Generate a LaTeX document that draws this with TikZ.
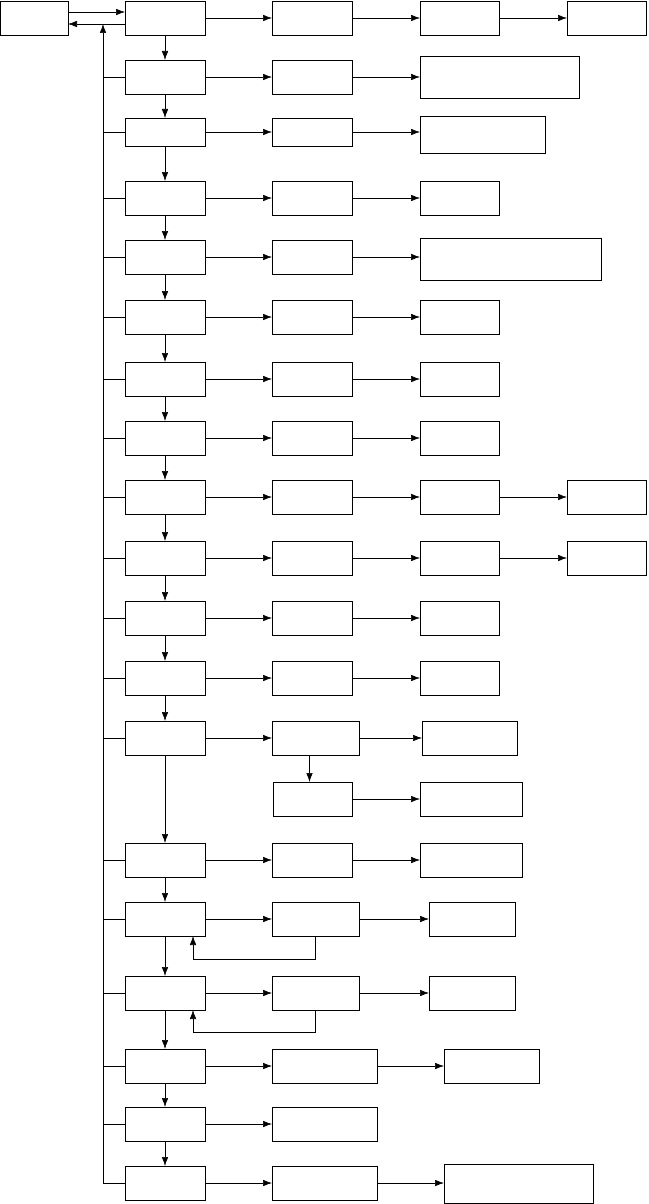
\documentclass[tikz,border=0pt]{standalone}
\usetikzlibrary{arrows.meta}

% box from top left (x1,y1) to bottom right (x2,y2)
\newcommand{\bx}[5]{\node[blk,minimum width={((#4)-(#2))*1pt},minimum height={((#5)-(#3))*1pt}] (#1) at (#2,#3) {};}

\begin{document}
\begin{tikzpicture}[x=1pt,y=-1pt,
    blk/.style={draw,line width=0.9pt,inner sep=0pt,outer sep=0pt,anchor=north west},
    arr/.style={line width=0.6pt,-{Latex[length=9pt,width=6.5pt]}},
    ln/.style={line width=0.6pt}]
    \useasboundingbox (0,0) rectangle (648,1204);
    % first and second column
    \bx{st}{0.5}{1}{68}{35}
    \foreach \r/\t/\h/\w in {0/1/34/352,1/60/34/352,2/118/28/352,3/181/34/352,4/240/34/352,
        5/300/34/352,6/362/34/352,7/421/34/352,8/480/34/352,9/541/34/352,10/601/34/352,
        11/661/34/352,12/721/34/359,13/843/34/352,14/902/34/359,15/976/34/359,
        16/1049/34/377,17/1107/34/377,18/1166/34/377}
        {\bx{a\r}{125}{\t}{205}{\t+\h}
         \bx{b\r}{272}{\t}{\w}{\t+\h}}
    \bx{b12x}{273}{782}{352}{816}
    % third column
    \bx{c0}{420}{1}{499}{35}
    \bx{c1}{420}{56}{579}{98}
    \bx{c2}{420}{116}{545}{153}
    \bx{c3}{420}{181}{499}{215}
    \bx{c4}{420}{238}{601}{280}
    \foreach \r/\t in {5/300,6/362,7/421,8/480,9/541,10/601,11/661}
        {\bx{c\r}{420}{\t}{499}{\t+34}}
    \bx{c12}{422}{721}{517}{755}
    \bx{c12x}{420}{782}{522}{816}
    \bx{c13}{420}{843}{522}{877}
    \bx{c14}{429}{902}{515}{936}
    \bx{c15}{429}{976}{515}{1010}
    \bx{c16}{444}{1049}{539}{1083}
    \bx{c18}{444}{1164}{593}{1203}
    % fourth column
    \bx{d0}{567}{1}{646}{35}
    \bx{d8}{567}{480}{646}{514}
    \bx{d9}{567}{541}{646}{575}

    \draw[arr] ([yshift=6pt]st.east) -- ([yshift=6pt]a0.west);
    \coordinate (ret) at ([yshift=-6pt]a0.west);
    \draw[arr] (ret) -- (ret -| st.east);
    \coordinate (bus) at (103,0);
    \draw[arr] (bus |- a18.west) -- (bus |- ret);
    \foreach \r in {1,...,18} \draw[ln] (bus |- a\r.west) -- (a\r.west);
    \foreach \r in {0,...,17} {
        \pgfmathtruncatemacro{\n}{\r+1}
        \draw[arr] (a\r.south) -- (a\n.north);
    }
    \foreach \r in {0,...,18} \draw[arr] (a\r.east) -- (b\r.west);
    \foreach \r in {0,...,16,18} \draw[arr] (b\r.east) -- (b\r.east -| c\r.west);
    \foreach \r in {0,8,9} \draw[arr] (c\r.east) -- (d\r.west);
    \draw[arr] ([xshift=-6pt]b12.south) -- ([xshift=-6pt]b12.south |- b12x.north);
    \draw[arr] (b12x.east) -- (c12x.west);
    \draw[arr] (b14.south) -- ++(0,23) -| ([xshift=28pt]a14.south);
    \draw[arr] (b15.south) -- ++(0,22) -| ([xshift=28pt]a15.south);
\end{tikzpicture}
\end{document}
